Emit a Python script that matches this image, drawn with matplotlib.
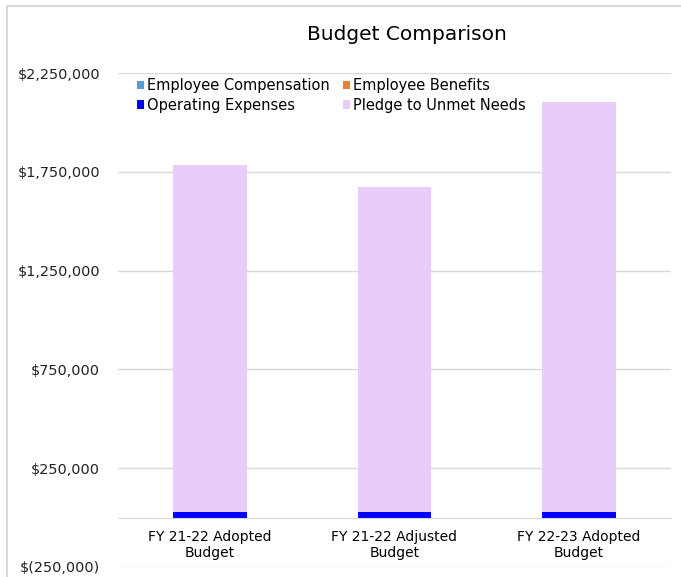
import numpy as np
import matplotlib
matplotlib.use("Agg")
import matplotlib.pyplot as plt
from matplotlib.patches import Rectangle
from matplotlib.ticker import FuncFormatter

plt.rcParams['font.family'] = ['DejaVu Sans']

# data
categories = ["FY 21-22 Adopted\nBudget", "FY 21-22 Adjusted\nBudget", "FY 22-23 Adopted\nBudget"]
emp_comp = [0, 0, 0]
emp_benefits = [0, 0, 0]
operating = [30000, 28000, 30000]
pledge = [1754000, 1645000, 2073000]

series = ["Employee Compensation", "Employee Benefits", "Operating Expenses", "Pledge to Unmet Needs"]
colors = ["#5B9BD5", "#ED7D31", "#0000FF", "#E9CBFC"]

fig = plt.figure(figsize=(6.81, 5.77), dpi=100)
ax = fig.add_axes([118/681, 1-567/577, (671-118)/681, (567-73)/577])

x = np.arange(len(categories))
w = 0.40
bottom = np.zeros(len(categories))
handles = {}
for name, vals, c in zip(series, [emp_comp, emp_benefits, operating, pledge], colors):
    b = ax.bar(x, vals, w, bottom=bottom, color=c, label=name, zorder=3)
    handles[name] = b
    bottom += np.array(vals)

ax.set_xlim(-0.5, 2.5)
ax.set_ylim(-250000, 2250000)
ax.set_yticks(np.arange(-250000, 2250001, 500000))

def money(v, pos):
    if v < 0:
        return "$({:,.0f})".format(-v)
    return "${:,.0f}".format(v)

ax.yaxis.set_major_formatter(FuncFormatter(money))
ax.set_xticks(x)
ax.set_xticklabels(categories, fontsize=10.3, color='#222222')
ax.tick_params(axis='y', length=0, pad=13, labelsize=10.4, labelcolor='#222222')
ax.tick_params(axis='x', length=0, pad=9)
ax.grid(axis='y', color='#D9D9D9', lw=1, zorder=0)

for s in ['top', 'right', 'left']:
    ax.spines[s].set_visible(False)
ax.spines['bottom'].set_position(('data', 0))
ax.spines['bottom'].set_color('#D9D9D9')
ax.spines['bottom'].set_zorder(4)

# legend order: column-wise fill in matplotlib
order = ["Employee Compensation", "Operating Expenses", "Employee Benefits", "Pledge to Unmet Needs"]
ax.legend([handles[n] for n in order], order, ncol=2, loc='upper left',
          bbox_to_anchor=(0.034, 0.99), frameon=False, fontsize=10.5,
          handlelength=0.5, handleheight=0.5, handletextpad=0.2,
          columnspacing=0.9, labelspacing=0.32, borderpad=0, borderaxespad=0)

fig.text(407/681, 1-35/577, "Budget Comparison", ha='center', va='center', fontsize=14.5)

fig.patches.append(Rectangle((7/681, -0.05), 1.0, 1-6/577+0.05, transform=fig.transFigure,
                             fill=False, edgecolor='#D9D9D9', lw=1.5))

fig.savefig("out.png", dpi=100)
